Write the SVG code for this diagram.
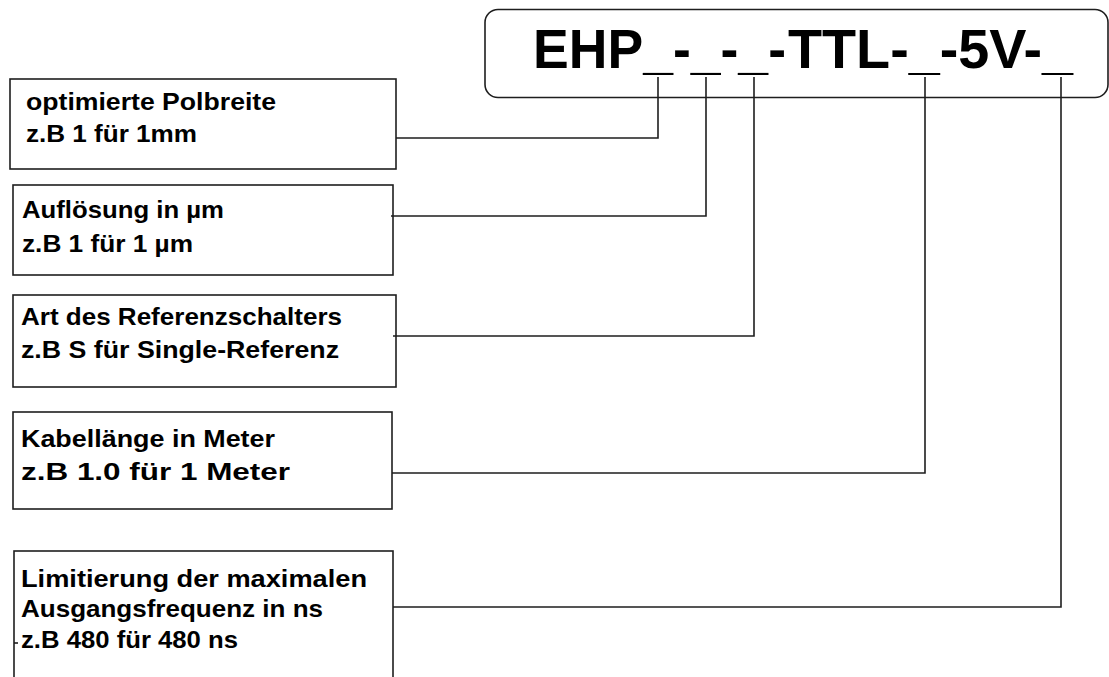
<svg xmlns="http://www.w3.org/2000/svg" width="1109" height="677" viewBox="0 0 1109 677">
<style>
.box{fill:#fff;stroke:#1e1e1e;stroke-width:1.6}
.t{font-family:"Liberation Sans",Arial,sans-serif;font-weight:bold;font-size:24px;fill:#000}
.h{font-family:"Liberation Sans",Arial,sans-serif;font-weight:bold;font-size:56px;fill:#000}
.c{fill:none;stroke:#1e1e1e;stroke-width:1.6}
</style>
<rect width="1109" height="677" fill="#fff"/>
<g id="header">
<rect class="box" x="485" y="9.5" width="623" height="88" rx="13"/>
<text class="h" x="533" y="68" textLength="253" lengthAdjust="spacingAndGlyphs">EHP_-_-_-</text>
<text class="h" x="788" y="68" textLength="285" lengthAdjust="spacingAndGlyphs">TTL-_-5V-_</text>
</g>
<g id="box1">
<rect class="box" x="10" y="79" width="386" height="90"/>
<text class="t" x="26" y="110" textLength="250" lengthAdjust="spacingAndGlyphs">optimierte Polbreite</text>
<text class="t" x="26" y="142" textLength="171" lengthAdjust="spacingAndGlyphs">z.B 1 für 1mm</text>
</g>
<g id="box2">
<rect class="box" x="13" y="185" width="380" height="90"/>
<text class="t" x="22" y="218" textLength="202" lengthAdjust="spacingAndGlyphs">Auflösung in µm</text>
<text class="t" x="22" y="252" textLength="171" lengthAdjust="spacingAndGlyphs">z.B 1 für 1 µm</text>
</g>
<g id="box3">
<rect class="box" x="13" y="295" width="383" height="92"/>
<text class="t" x="21" y="325" textLength="321" lengthAdjust="spacingAndGlyphs">Art des Referenzschalters</text>
<text class="t" x="21" y="358" textLength="318" lengthAdjust="spacingAndGlyphs">z.B S für Single-Referenz</text>
</g>
<g id="box4">
<rect class="box" x="13" y="412" width="379" height="97"/>
<text class="t" x="21" y="447" textLength="254" lengthAdjust="spacingAndGlyphs">Kabellänge in Meter</text>
<text class="t" x="21" y="480" textLength="269" lengthAdjust="spacingAndGlyphs">z.B 1.0 für 1 Meter</text>
</g>
<g id="box5">
<rect class="box" x="14" y="551" width="379" height="140"/>
<text class="t" x="21" y="587" textLength="346" lengthAdjust="spacingAndGlyphs">Limitierung der maximalen</text>
<text class="t" x="21" y="617" textLength="302" lengthAdjust="spacingAndGlyphs">Ausgangsfrequenz in ns</text>
<text class="t" x="21" y="648" textLength="217" lengthAdjust="spacingAndGlyphs">z.B 480 für 480 ns</text>
<line class="c" x1="14" y1="643" x2="18" y2="643"/>
</g>
<g id="connectors">
<polyline class="c" points="658,77 658,138 396,138"/>
<polyline class="c" points="706,77 706,216 391,216"/>
<polyline class="c" points="754,77 754,336 393,336"/>
<polyline class="c" points="925,77 925,473 392,473"/>
<polyline class="c" points="1061,77 1061,607 393,607"/>
</g>
</svg>
